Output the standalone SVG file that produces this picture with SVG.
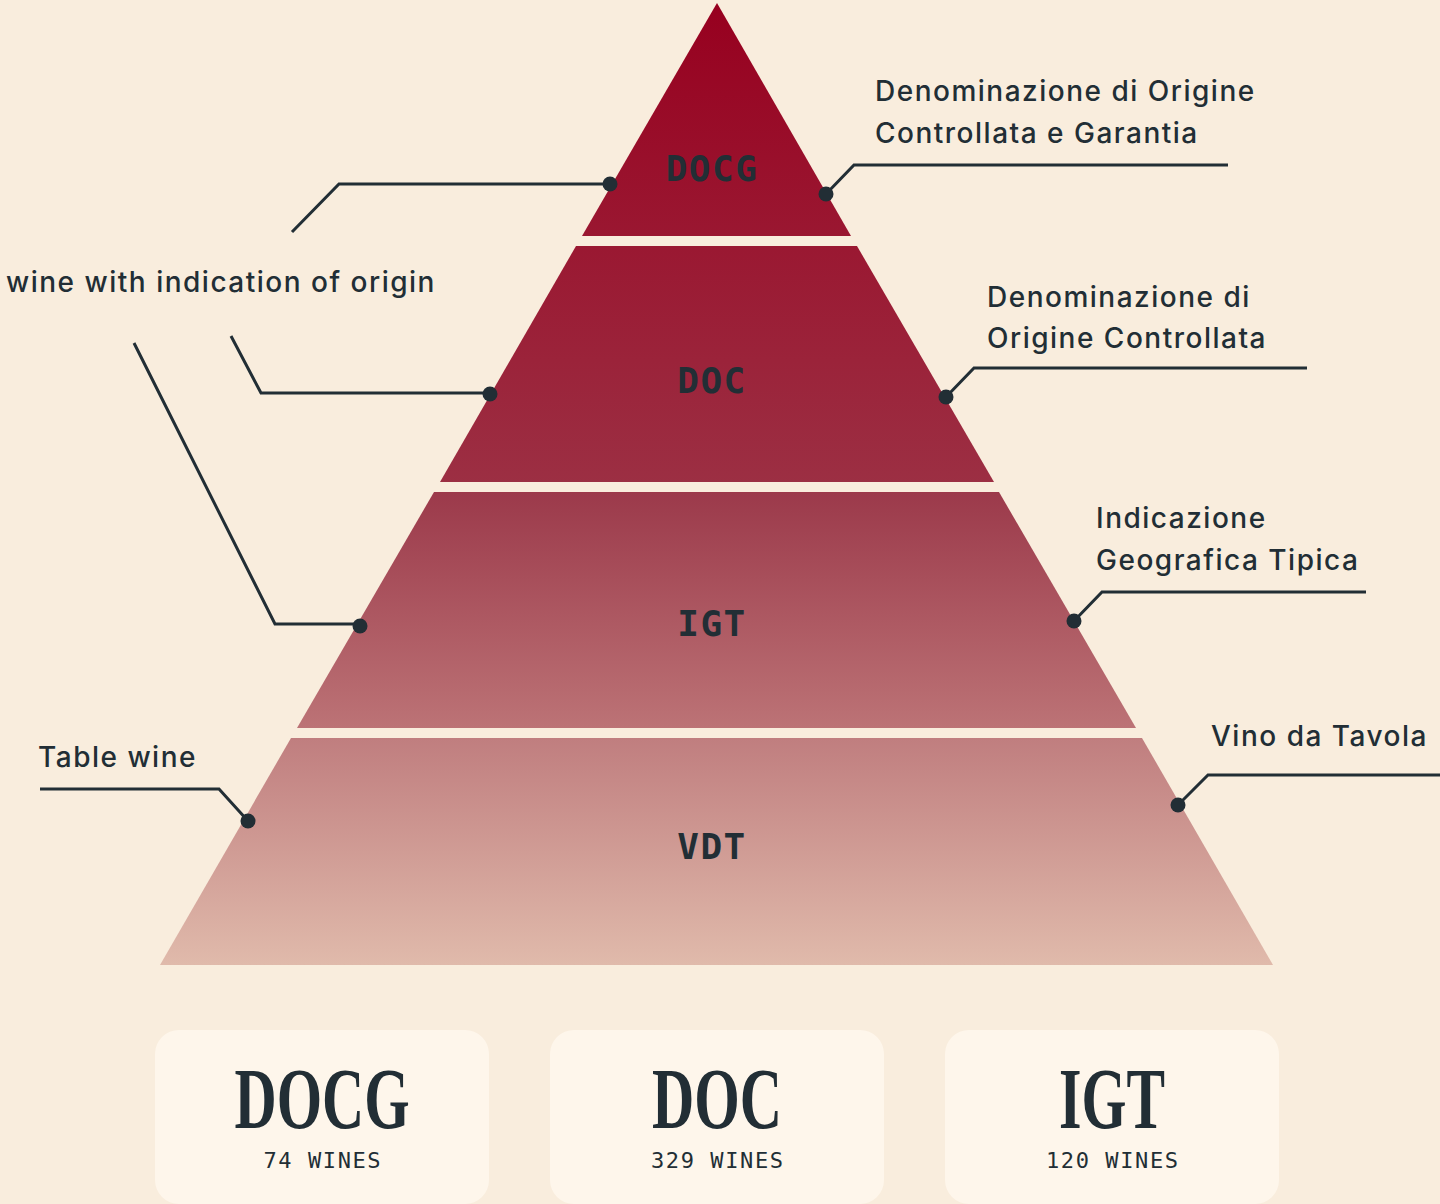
<svg xmlns="http://www.w3.org/2000/svg" width="1440" height="1204" viewBox="0 0 1440 1204">
  <defs>
    <linearGradient id="pyr" gradientUnits="userSpaceOnUse" x1="0" y1="3" x2="0" y2="965">
      <stop offset="0" stop-color="#97001f"/>
      <stop offset="0.243" stop-color="#9a1731"/>
      <stop offset="0.5" stop-color="#9c2f43"/>
      <stop offset="0.51" stop-color="#9c3a4b"/>
      <stop offset="0.754" stop-color="#bc7376"/>
      <stop offset="0.765" stop-color="#c07e7f"/>
      <stop offset="1" stop-color="#e0baab"/>
    </linearGradient>
    <style>
      .band { fill: url(#pyr); }
      .lvl { font-family: "DejaVu Sans Mono", "Liberation Mono", monospace; font-weight: bold; font-size: 36px; fill: #222e35; text-anchor: middle; letter-spacing: 1.5px; }
      .lbl { font-family: Inter, "Noto Sans", "Liberation Sans", sans-serif; font-weight: 500; font-size: 28px; fill: #222e35; letter-spacing: 1.5px; }
      .conn { fill: none; stroke: #222e35; stroke-width: 3; stroke-linejoin: miter; }
      .dot { fill: #222e35; }
      .card { fill: #fef6eb; }
      .ttl { font-family: "Liberation Serif", "Times New Roman", serif; font-weight: bold; font-size: 86px; fill: #222e35; text-anchor: middle; }
      .cnt { font-family: "DejaVu Sans Mono", "Liberation Mono", monospace; font-weight: 500; font-size: 22px; fill: #222e35; text-anchor: middle; letter-spacing: 1.6px; }
    </style>
  </defs>
  <rect x="0" y="0" width="1440" height="1204" fill="#f9eddd"/>

  <g id="pyramid">
    <g id="band-docg">
      <polygon class="band" points="717,3 851,236 582,236"/>
      <text class="lvl" x="712" y="181">DOCG</text>
    </g>
    <g id="band-doc">
      <polygon class="band" points="576,246 857,246 994,482 440,482"/>
      <text class="lvl" x="712" y="393">DOC</text>
    </g>
    <g id="band-igt">
      <polygon class="band" points="434,492 999,492 1136,728 297,728"/>
      <text class="lvl" x="712" y="636">IGT</text>
    </g>
    <g id="band-vdt">
      <polygon class="band" points="291,738 1142,738 1273,965 160,965"/>
      <text class="lvl" x="712" y="859">VDT</text>
    </g>
  </g>

  <g id="labels">
    <g id="label-docg">
      <text class="lbl" x="875" y="101">Denominazione di Origine</text>
      <text class="lbl" x="875" y="143">Controllata e Garantia</text>
    </g>
    <g id="label-doc">
      <text class="lbl" x="987" y="307">Denominazione di</text>
      <text class="lbl" x="987" y="348">Origine Controllata</text>
    </g>
    <g id="label-igt">
      <text class="lbl" x="1096" y="528">Indicazione</text>
      <text class="lbl" x="1096" y="570">Geografica Tipica</text>
    </g>
    <g id="label-vdt">
      <text class="lbl" x="1211" y="746">Vino da Tavola</text>
    </g>
    <g id="label-origin">
      <text class="lbl" x="6" y="292">wine with indication of origin</text>
    </g>
    <g id="label-table">
      <text class="lbl" x="38" y="767">Table wine</text>
    </g>
  </g>

  <g id="connectors">
    <polyline class="conn" points="610,184 339,184 292,232"/>
    <circle class="dot" cx="610" cy="184" r="7.5"/>
    <polyline class="conn" points="826,194 854,165 1228,165"/>
    <circle class="dot" cx="826" cy="194" r="7.5"/>
    <polyline class="conn" points="490,393 261,393 231,336"/>
    <circle class="dot" cx="490" cy="394" r="7.5"/>
    <polyline class="conn" points="360,624 275,624 134,343"/>
    <circle class="dot" cx="360" cy="626" r="7.5"/>
    <polyline class="conn" points="946,397 974,368 1307,368"/>
    <circle class="dot" cx="946" cy="397" r="7.5"/>
    <polyline class="conn" points="1074,621 1102,592 1366,592"/>
    <circle class="dot" cx="1074" cy="621" r="7.5"/>
    <polyline class="conn" points="248,821 219,789 40,789"/>
    <circle class="dot" cx="248" cy="821" r="7.5"/>
    <polyline class="conn" points="1178,805 1208,775 1440,775"/>
    <circle class="dot" cx="1178" cy="805" r="7.5"/>
  </g>

  <g id="cards">
    <g id="card-docg">
      <rect class="card" x="155" y="1030" width="334" height="174" rx="24"/>
      <text class="ttl" x="322" y="1128" textLength="175" lengthAdjust="spacingAndGlyphs">DOCG</text>
      <text class="cnt" x="322.8" y="1168">74 WINES</text>
    </g>
    <g id="card-doc">
      <rect class="card" x="550" y="1030" width="334" height="174" rx="24"/>
      <text class="ttl" x="717" y="1128" textLength="130" lengthAdjust="spacingAndGlyphs">DOC</text>
      <text class="cnt" x="717.8" y="1168">329 WINES</text>
    </g>
    <g id="card-igt">
      <rect class="card" x="945" y="1030" width="334" height="174" rx="24"/>
      <text class="ttl" x="1112" y="1128" textLength="106" lengthAdjust="spacingAndGlyphs">IGT</text>
      <text class="cnt" x="1112.8" y="1168">120 WINES</text>
    </g>
  </g>
</svg>
